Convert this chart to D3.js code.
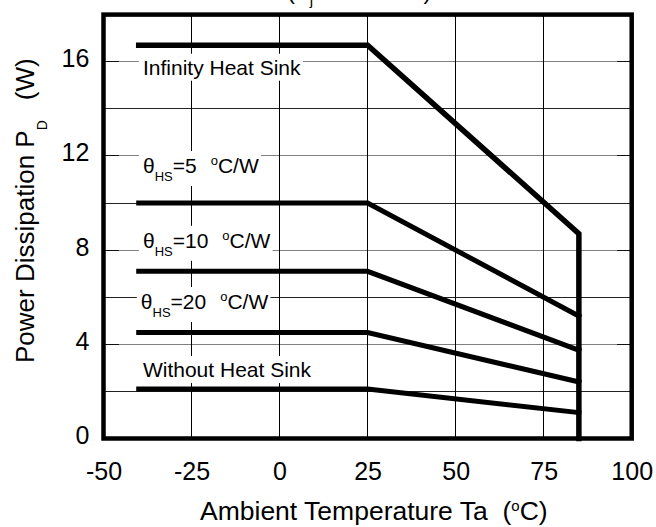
<!DOCTYPE html>
<html>
<head>
<meta charset="utf-8">
<script src="https://cdn.jsdelivr.net/npm/d3@7"></script>
<style>
  body { margin: 0; background: #fff; }
  svg { display: block; font-family: "Liberation Sans", Arial, sans-serif; }
  svg text { white-space: pre; }
</style>
</head>
<body>
<svg></svg>
<script>
// derating curves
var temps = [-40, 25, 85];
var infTemps = [-40, 25, 85, 85];
var infinitySink = [16.7, 16.7, 8.7, 0];
var hs5 = [10.0, 10.0, 5.2];
var hs10 = [7.1, 7.1, 3.75];
var hs20 = [4.5, 4.5, 2.4];
var noSink = [2.1, 2.1, 1.1];

var xTicks = [-50, -25, 0, 25, 50, 75, 100];
var yTicks = [0, 4, 8, 12, 16];
var yGrid = [2, 4, 6, 8, 10, 12, 14, 16];
var xGrid = [-25, 0, 25, 50, 75];

var svg, width, height, margin;

document.addEventListener('DOMContentLoaded', function () {
    margin = {top: 14.6, right: 24.3, bottom: 88.5, left: 103.5};
    width = 656 - margin.left - margin.right;
    height = 527 - margin.top - margin.bottom;

    var root = d3.select('svg')
        .attr('width', 656)
        .attr('height', 527);

    // title, mostly cut off at the top (as in the source)
    var title = root.append('text')
        .attr('x', 287)
        .attr('y', -1)
        .style('font-size', '24px')
        .attr('fill', '#000');
    title.append('tspan').text('(T');
    title.append('tspan').attr('dy', 6).style('font-size', '15px').text('j');
    title.append('tspan').attr('dy', -6).attr('dx', 4).text(' =  150 ');
    title.append('tspan').attr('dy', -9).style('font-size', '15px').text('o');
    title.append('tspan').attr('dy', 9).text('C)');

    svg = root.append('g')
        .attr('transform', `translate(${margin.left},${margin.top})`);

    var xScale = d3.scaleLinear().domain([-50, 100]).range([0, width]);
    var yScale = d3.scaleLinear().domain([0, 18]).range([height, 0]);

    // grid
    svg.selectAll('.hgrid')
        .data(yGrid)
        .enter()
        .append('line')
        .attr('x1', 0)
        .attr('x2', width)
        .attr('y1', d => yScale(d))
        .attr('y2', d => yScale(d))
        .attr('stroke', d => yTicks.indexOf(d) >= 0 ? '#808080' : '#222')
        .attr('stroke-width', 1)
        .attr('shape-rendering', 'crispEdges');

    svg.selectAll('.vgrid')
        .data(xGrid)
        .enter()
        .append('line')
        .attr('x1', d => xScale(d))
        .attr('x2', d => xScale(d))
        .attr('y1', 0)
        .attr('y2', height)
        .attr('stroke', '#000')
        .attr('stroke-width', 1)
        .attr('shape-rendering', 'crispEdges');

    // inner tick stubs on labelled y values
    var stubs = yTicks.filter(d => d > 0);
    svg.selectAll('.stubL')
        .data(stubs)
        .enter()
        .append('line')
        .attr('x1', 0).attr('x2', 15)
        .attr('y1', d => yScale(d)).attr('y2', d => yScale(d))
        .attr('stroke', '#111').attr('stroke-width', 1)
        .attr('shape-rendering', 'crispEdges');
    svg.selectAll('.stubR')
        .data(stubs)
        .enter()
        .append('line')
        .attr('x1', width - 15).attr('x2', width)
        .attr('y1', d => yScale(d)).attr('y2', d => yScale(d))
        .attr('stroke', '#111').attr('stroke-width', 1)
        .attr('shape-rendering', 'crispEdges');

    // annotations with white boxes
    function label(xv, yPix, parts) {
        var g = svg.append('g');
        var t = g.append('text')
            .attr('x', xScale(xv))
            .attr('y', yPix)
            .style('font-size', '21px')
            .attr('fill', '#000');
        parts(t);
        var b = t.node().getBBox();
        g.insert('rect', 'text')
            .attr('x', b.x - 4)
            .attr('y', b.y - 2)
            .attr('width', b.width + 6)
            .attr('height', b.height + 4)
            .attr('fill', '#fff');
    }

    function theta(t, val) {
        t.append('tspan').text('\u03b8');
        t.append('tspan').attr('dy', 8).style('font-size', '13px').text('HS');
        t.append('tspan').attr('dy', -8).text('=' + val);
        t.append('tspan').attr('dx', 14).attr('dy', -8).style('font-size', '13px').text('o');
        t.append('tspan').attr('dy', 8).text('C/W');
    }

    label(-38.8, yScale(infinitySink[0]) + 29.5, t => t.text('Infinity Heat Sink'));
    label(-38.8, yScale(hs5[0]) - 30, t => theta(t, 5));
    label(-38.8, yScale(hs10[0]) - 23.5, t => theta(t, 10));
    label(-39.4, yScale(hs20[0]) - 23.5, t => theta(t, 20));
    label(-38.8, yScale(noSink[0]) - 12, t => t.text('Without Heat Sink'));

    // curves
    var line = d3.line()
        .x(d => xScale(d[0]))
        .y(d => yScale(d[1]));

    var series = [
        {pts: d3.zip(infTemps, infinitySink), w: 5.5},
        {pts: d3.zip(temps, hs5), w: 5},
        {pts: d3.zip(temps, hs10), w: 5},
        {pts: d3.zip(temps, hs20), w: 5},
        {pts: d3.zip(temps, noSink), w: 5}
    ];

    svg.selectAll('.curve')
        .data(series)
        .enter()
        .append('path')
        .attr('d', d => line(d.pts))
        .attr('fill', 'none')
        .attr('stroke', '#000')
        .attr('stroke-width', d => d.w)
        .attr('stroke-linecap', 'square')
        .attr('stroke-linejoin', 'miter');

    // frame
    svg.append('rect')
        .attr('x', 0)
        .attr('y', 0)
        .attr('width', width)
        .attr('height', height)
        .attr('fill', 'none')
        .attr('stroke', '#000')
        .attr('stroke-width', 4.5);

    // axes
    var xAxis = svg.append('g')
        .attr('transform', `translate(0,${height})`)
        .call(d3.axisBottom(xScale).tickValues(xTicks).tickFormat(d => String(d))
            .tickSize(0).tickPadding(23.5));
    var yAxis = svg.append('g')
        .call(d3.axisLeft(yScale).tickValues(yTicks).tickFormat(d => String(d))
            .tickSize(0).tickPadding(14.2));

    [xAxis, yAxis].forEach(function (a) {
        a.select('.domain').remove();
        a.selectAll('text')
            .style('font-size', '25px')
            .style('font-family', '"Liberation Sans", Arial, sans-serif')
            .attr('fill', '#000');
    });
    yAxis.selectAll('text').attr('dy', '0.2em');

    // axis titles
    var xt = root.append('text')
        .attr('x', 200)
        .attr('y', 520)
        .style('font-size', '26.5px')
        .attr('fill', '#000');
    xt.append('tspan').text('Ambient Temperature Ta  (');
    xt.append('tspan').attr('dy', -9).style('font-size', '15px').text('o');
    xt.append('tspan').attr('dy', 9).text('C)');

    var yt = root.append('text')
        .attr('transform', 'translate(33.5,363) rotate(-90)')
        .style('font-size', '26px')
        .attr('fill', '#000');
    yt.append('tspan').text('Power Dissipation P');
    yt.append('tspan').attr('dy', 13).style('font-size', '14px').text('D');
    yt.append('tspan').attr('dy', -13).attr('dx', 20).text('(W)');
});
</script>
</body>
</html>
